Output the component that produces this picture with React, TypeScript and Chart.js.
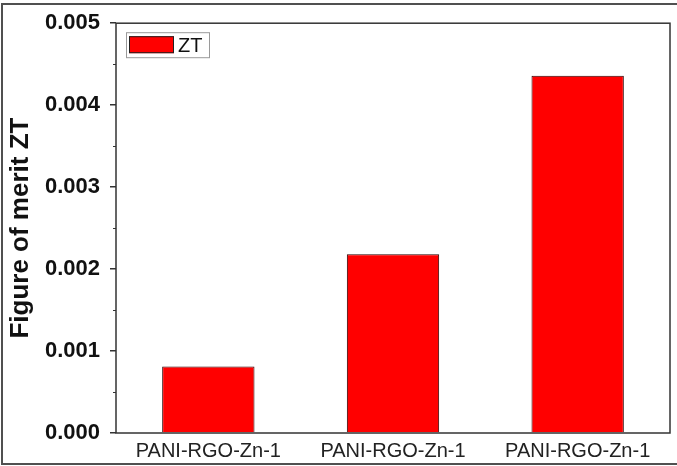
import React, { useEffect, useRef } from "react";
import { Chart, registerables } from "chart.js";

Chart.register(...registerables);

const categories = ["PANI-RGO-Zn-1", "PANI-RGO-Zn-1", "PANI-RGO-Zn-1"];
const ztValues = [0.00081, 0.00218, 0.00436];
const seriesLabel = "ZT";
const yMin = 0;
const yMax = 0.005;
const yStep = 0.001;
const minorTicks = [0.0005, 0.0015, 0.0025, 0.0035, 0.0045];
const yTitle = "Figure of merit ZT";

const FONT = "'Liberation Sans', Arial, sans-serif";

const framePlugin = {
  id: "frame",
  beforeDraw(chart: any) {
    const ctx = chart.ctx;
    ctx.save();
    ctx.fillStyle = "#ffffff";
    ctx.fillRect(0, 0, chart.width, chart.height);
    ctx.strokeStyle = "#505050";
    ctx.lineWidth = 2;
    ctx.beginPath();
    ctx.moveTo(chart.width + 5, 4);
    ctx.lineTo(2, 4);
    ctx.lineTo(2, 464);
    ctx.lineTo(chart.width + 5, 464);
    ctx.stroke();
    ctx.restore();
  },
};

const boxPlugin = {
  id: "box",
  afterDatasetsDraw(chart: any) {
    const { ctx, chartArea } = chart;
    const ys = chart.scales.y;
    ctx.save();
    ctx.strokeStyle = "#333333";
    ctx.lineWidth = 1.5;
    ctx.strokeRect(chartArea.left, chartArea.top, chartArea.right - chartArea.left, chartArea.bottom - chartArea.top);
    ctx.lineWidth = 1.2;
    ctx.beginPath();
    minorTicks.forEach((v) => {
      const py = Math.round(ys.getPixelForValue(v)) + 0.5;
      ctx.moveTo(chartArea.left - 3, py);
      ctx.lineTo(chartArea.left, py);
    });
    ctx.stroke();

    // legend
    const ds = chart.data.datasets[0];
    const lx = chartArea.left + 10;
    const ly = chartArea.top + 9;
    ctx.strokeStyle = "#9a9a9a";
    ctx.lineWidth = 1;
    ctx.strokeRect(lx + 0.5, ly + 0.5, 83, 25);
    ctx.fillStyle = ds.backgroundColor;
    ctx.fillRect(lx + 3, ly + 4, 45, 17);
    ctx.strokeStyle = "#222";
    ctx.strokeRect(lx + 3.5, ly + 4.5, 44, 16);
    ctx.fillStyle = "#111";
    ctx.font = `20px ${FONT}`;
    ctx.textBaseline = "middle";
    ctx.textAlign = "left";
    ctx.fillText(ds.label, lx + 52, ly + 14);
    ctx.restore();
  },
};

export default function App() {
  const ref = useRef<HTMLCanvasElement | null>(null);
  useEffect(() => {
    if (!ref.current) return;
    const chart = new Chart(ref.current, {
      type: "bar",
      data: {
        labels: categories,
        datasets: [
          {
            label: seriesLabel,
            data: ztValues,
            backgroundColor: "#ff0000",
            borderColor: "#2a0000",
            borderWidth: 1,
            barPercentage: 0.5,
            categoryPercentage: 1,
          },
        ],
      },
      options: {
        animation: false,
        responsive: false,
        maintainAspectRatio: false,
        layout: { padding: { top: 19, right: 7, left: 0, bottom: 0 } },
        plugins: { legend: { display: false }, tooltip: { enabled: false } },
        scales: {
          x: {
            grid: { display: false, drawTicks: false },
            border: { display: false },
            ticks: { color: "#222", font: { family: FONT, size: 20 }, padding: 6, maxRotation: 0 },
            afterFit: (s: any) => {
              s.height = 33;
            },
          },
          y: {
            min: yMin,
            max: yMax,
            grid: { drawOnChartArea: false, tickLength: 6, color: "#333", lineWidth: 1.5 },
            border: { display: false },
            ticks: {
              stepSize: yStep,
              padding: 10,
              color: "#111",
              font: { family: FONT, size: 22, weight: "bold" },
              callback: (v: any) => Number(v).toFixed(3),
            },
            title: {
              display: true,
              text: yTitle,
              color: "#111",
              font: { family: FONT, size: 26, weight: "bold" },
              padding: { top: 5, bottom: 0 },
            },
            afterFit: (s: any) => {
              s.width = 116;
            },
          },
        },
      },
      plugins: [framePlugin, boxPlugin],
    });
    return () => chart.destroy();
  }, []);
  return (
    <div style={{ position: "absolute", left: 0, top: 0, width: 677, height: 466 }}>
      <canvas ref={ref} width={677} height={466} style={{ width: 677, height: 466 }} />
    </div>
  );
}
